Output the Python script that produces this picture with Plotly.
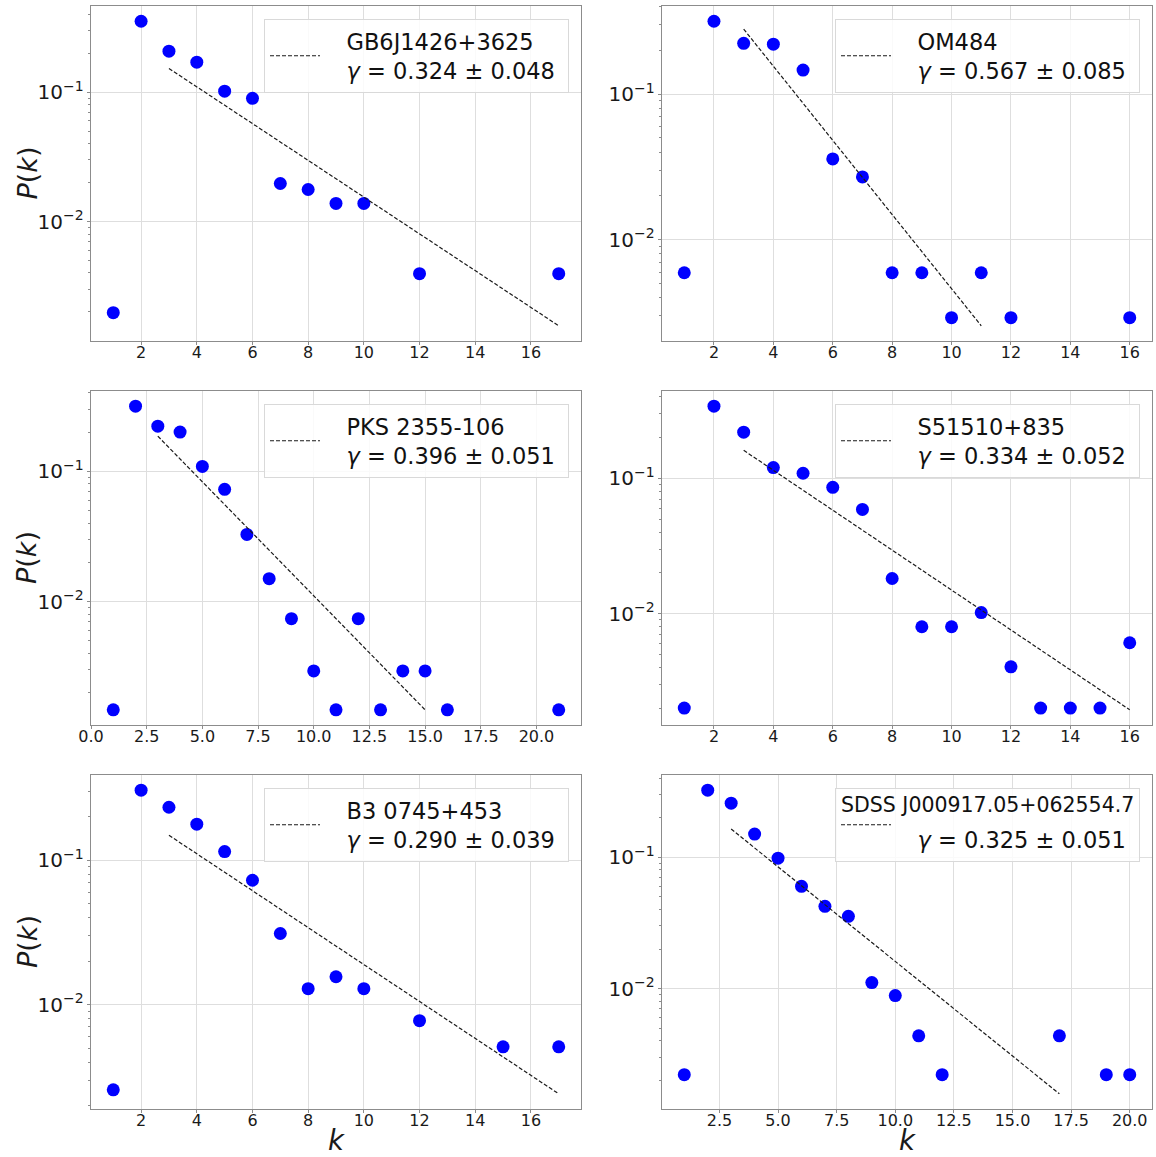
import math
import plotly.graph_objects as go

# ---------------- data ----------------
names = ["GB6J1426+3625", "OM484", "PKS 2355-106", "S51510+835",
         "B3 0745+453", "SDSS J000917.05+062554.7"]
gammas = ["0.324 ± 0.048", "0.567 ± 0.085", "0.396 ± 0.051",
          "0.334 ± 0.052", "0.290 ± 0.039", "0.325 ± 0.051"]

k1 = [1, 2, 3, 4, 5, 6, 7, 8, 9, 10, 12, 17]
p1 = [0.00197, 0.355, 0.208, 0.171, 0.102, 0.0898, 0.0197, 0.0177, 0.0138, 0.0138, 0.00395, 0.00395]
fit1_k = [3, 17]
fit1_p = [0.153, 0.00156]

k2 = [1, 2, 3, 4, 5, 6, 7, 8, 9, 10, 11, 12, 16]
p2 = [0.00594, 0.316, 0.223, 0.22, 0.146, 0.0359, 0.027, 0.00594, 0.00594, 0.00292, 0.00594, 0.00292, 0.00292]
fit2_k = [3, 11]
fit2_p = [0.279, 0.00257]

k3 = [1, 2, 3, 4, 5, 6, 7, 8, 9, 10, 11, 12, 13, 14, 15, 16, 21]
p3 = [0.00148, 0.316, 0.222, 0.2, 0.109, 0.0727, 0.0328, 0.0150, 0.0074, 0.00294, 0.00148,
      0.0074, 0.00148, 0.00294, 0.00294, 0.00148, 0.00148]
fit3_k = [3, 15]
fit3_p = [0.186, 0.00148]

k4 = [1, 2, 3, 4, 5, 6, 7, 8, 9, 10, 11, 12, 13, 14, 15, 16]
p4 = [0.00201, 0.341, 0.219, 0.12, 0.109, 0.0858, 0.0589, 0.0182, 0.00801, 0.00801, 0.0102,
      0.00405, 0.00201, 0.00201, 0.00201, 0.0061]
fit4_k = [3, 16]
fit4_p = [0.161, 0.00195]

k5 = [1, 2, 3, 4, 5, 6, 7, 8, 9, 10, 12, 15, 17]
p5 = [0.00257, 0.306, 0.233, 0.178, 0.115, 0.0727, 0.0311, 0.0129, 0.0156, 0.0129, 0.00774, 0.0051, 0.0051]
fit5_k = [3, 17]
fit5_p = [0.149, 0.00241]

k6 = [1, 2, 3, 4, 5, 6, 7, 8, 9, 10, 11, 12, 17, 19, 20]
p6 = [0.00221, 0.324, 0.258, 0.15, 0.0983, 0.0601, 0.0423, 0.0355, 0.0111, 0.00885, 0.00437,
      0.00221, 0.00437, 0.00221, 0.00221]
fit6_k = [3, 17]
fit6_p = [0.164, 0.00158]

x_dticks = [2, 2, 2.5, 2, 2, 2.5]
x_formats = ["d", "d", ".1f", "d", "d", ".1f"]

panels = [(k1, p1, fit1_k, fit1_p), (k2, p2, fit2_k, fit2_p), (k3, p3, fit3_k, fit3_p),
          (k4, p4, fit4_k, fit4_p), (k5, p5, fit5_k, fit5_p), (k6, p6, fit6_k, fit6_p)]

# ---------------- layout geometry ----------------
W, H = 1156, 1157
col_px = [(91, 581), (662, 1152)]
row_px = [(6, 341), (391, 725), (775, 1109)]

FONT = "DejaVu Sans"
PAD = "&nbsp;&nbsp;&nbsp;"
fig = go.Figure()

layout = dict(
    width=W, height=H,
    margin=dict(l=0, r=0, t=0, b=0),
    paper_bgcolor="white", plot_bgcolor="white",
    font=dict(family=FONT, color="#1a1a1a", size=16),
    showlegend=True,
)
annotations = []

for i, (kk, pp, fk, fp) in enumerate(panels):
    r, c = divmod(i, 2)
    ax = "" if i == 0 else str(i + 1)
    xa, ya = "x" + ax, "y" + ax
    lg = "legend" if i == 0 else "legend" + str(i + 1)

    fig.add_trace(go.Scatter(
        x=kk, y=pp, mode="markers", xaxis=xa, yaxis=ya,
        marker=dict(color="#0000ff", size=13, line=dict(width=0)),
        showlegend=False, hoverinfo="x+y"))

    gline = PAD + "<i>γ</i> = " + gammas[i] + "&nbsp;"
    if i == 5:
        label = "&nbsp;<br>" + gline
    else:
        label = PAD + names[i] + "<br>" + gline
    fig.add_trace(go.Scatter(
        x=fk, y=fp, mode="lines", xaxis=xa, yaxis=ya,
        line=dict(color="#1a1a1a", width=1.2, dash="4px,2px"),
        name=label, legend=lg, showlegend=True))

    # matplotlib-style 5% margins
    allx = list(kk) + list(fk)
    ally = [math.log10(v) for v in list(pp) + list(fp)]
    xmin, xmax = min(allx), max(allx)
    xm = 0.05 * (xmax - xmin)
    ymin, ymax = min(ally), max(ally)
    ym = 0.05 * (ymax - ymin)

    x0, x1 = col_px[c]
    y0, y1 = row_px[r]
    xdom = [x0 / W, x1 / W]
    ydom = [1 - y1 / H, 1 - y0 / H]

    axis_common = dict(
        showline=True, linecolor="#8c8c8c", linewidth=1.2, mirror=True,
        showgrid=True, gridcolor="#dedede", gridwidth=1,
        ticks="outside", ticklen=3, tickcolor="#8c8c8c",
        zeroline=False, automargin=False,
        tickfont=dict(family=FONT, size=16, color="#1a1a1a"),
    )
    layout["xaxis" + ax] = dict(
        axis_common, domain=xdom, anchor=ya, range=[xmin - xm, xmax + xm],
        tick0=0, dtick=x_dticks[i], tickformat=x_formats[i],
        ticklabelstandoff=-6,
    )
    layout["yaxis" + ax] = dict(
        axis_common, domain=ydom, anchor=xa, type="log",
        range=[ymin - ym, ymax + ym], dtick=1, exponentformat="power",
        minor=dict(ticks="outside", ticklen=2, tickcolor="#8c8c8c", showgrid=False),
    )

    # axis titles (left column: P(k); bottom row: k)
    if c == 0:
        annotations.append(dict(
            text="<i>P</i>(<i>k</i>)", xref="paper", yref="paper",
            x=27 / W, y=1 - (y0 + y1) / 2 / H, xanchor="center", yanchor="middle",
            textangle=-90, showarrow=False, font=dict(family=FONT, size=27, color="#1a1a1a")))
    if r == 2:
        annotations.append(dict(
            text="<i>k</i>", xref="paper", yref="paper",
            x=(x0 + x1) / 2 / W, y=1 - 1139.5 / H, xanchor="center", yanchor="middle",
            borderpad=0,
            showarrow=False, font=dict(family=FONT, size=27.5, color="#1a1a1a")))

    layout[lg] = dict(
        x=(x1 - 12) / W, y=1 - (y0 + 13) / H, xanchor="right", yanchor="top",
        xref="paper", yref="paper",
        bgcolor="rgba(255,255,255,0.85)", bordercolor="#d9d9d9", borderwidth=1,
        font=dict(family=FONT, size=22.5, color="#111111"),
        itemwidth=50, valign="middle",
    )
    if i == 5:
        annotations.append(dict(
            text=names[i], xref="paper", yref="paper",
            x=(x1 - 16) / W, y=1 - (y0 + 30) / H, xanchor="right", yanchor="middle",
            showarrow=False, font=dict(family=FONT, size=20.5, color="#111111")))

layout["annotations"] = annotations
fig.update_layout(**layout)
fig.write_html("out.html")
